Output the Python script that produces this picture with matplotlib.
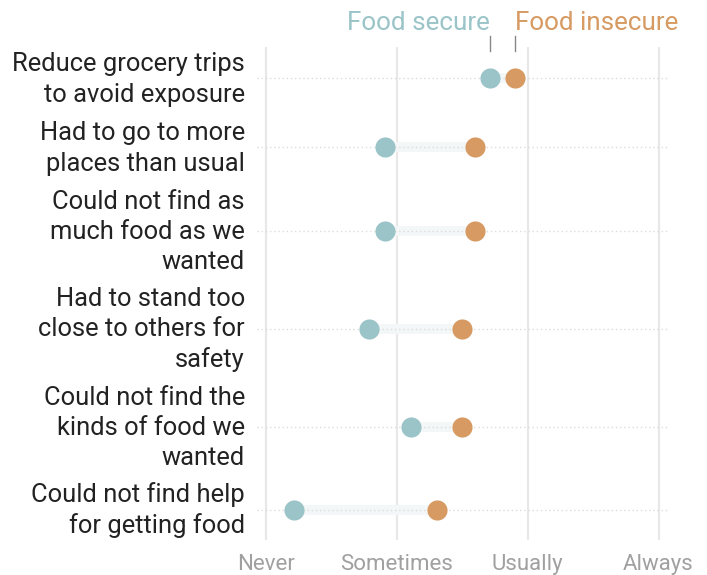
import numpy as np
from matplotlib import pyplot as plt
from matplotlib.transforms import blended_transform_factory

labels = [
    "Reduce grocery trips\nto avoid exposure",
    "Had to go to more\nplaces than usual",
    "Could not find as\nmuch food as we\nwanted",
    "Had to stand too\nclose to others for\nsafety",
    "Could not find the\nkinds of food we\nwanted",
    "Could not find help\nfor getting food",
]
food_secure = [2.71, 1.91, 1.91, 1.79, 2.11, 1.21]
food_insecure = [2.90, 2.60, 2.60, 2.50, 2.50, 2.31]
scale_values = [1, 2, 3, 4]
scale_labels = ["Never", "Sometimes", "Usually", "Always"]

SECURE = "#9ac4c8"
INSECURE = "#d69a62"

plt.rcParams["font.family"] = ["Roboto", "DejaVu Sans"]

fig = plt.figure(figsize=(7.07, 5.75), dpi=100)
W, H = 707, 575
PT = 72 / 100  # points per pixel
ax = fig.add_axes([257 / W, 1 - 540 / H, (669 - 257) / W, (540 - 47) / H])

# row heights depend on how many lines the label has
line_counts = np.array([lab.count("\n") + 1 for lab in labels])
heights = line_counts + 11 / 29
edges = np.concatenate([[0], np.cumsum(heights)])
centers = (edges[:-1] + edges[1:]) / 2

for y, s, i in zip(centers, food_secure, food_insecure):
    ax.plot([s, i], [y, y], color="#f4f7f7", lw=7.2, solid_capstyle="butt", zorder=1)
    ax.axhline(y, color="#dcdcdc", lw=1, ls=(0, (1, 2)), zorder=2)

ax.scatter(food_secure, centers, s=210, color=SECURE, zorder=4, linewidths=0)
ax.scatter(food_insecure, centers, s=210, color=INSECURE, zorder=4, linewidths=0)

for x in scale_values:
    ax.axvline(x, color="#e8e8e8", lw=1.6, zorder=0)

ax.set_xlim(0.93, 4.08)
ax.set_ylim(edges[-1] - 4.5 / 29, 3.5 / 29)
ax.set_xticks(scale_values)
ax.set_xticklabels(scale_labels, fontsize=16, color="#a0a0a0")
ax.set_yticks([])
ax.tick_params(axis="both", length=0)
ax.tick_params(axis="x", pad=10)
for spine in ax.spines.values():
    spine.set_visible(False)

# row labels: block of lines centred on the row (cap top to last baseline);
# va="baseline" anchors the last line's baseline
ytr = blended_transform_factory(ax.transAxes, ax.transData)
for lab, n, y in zip(labels, line_counts, centers):
    down_px = (n - 1) * 15 + 8.5
    ax.annotate(lab, xy=(0, y), xycoords=ytr, xytext=(-12 * PT, -down_px * PT),
                textcoords="offset points", ha="right", va="baseline",
                fontsize=18.4, color="#222222", linespacing=1.32)

# legend labels above the first row
tr = blended_transform_factory(ax.transData, fig.transFigure)
ax.text(food_secure[0], 1 - 23 / H, "Food secure", transform=tr, ha="right",
        va="center", fontsize=18.7, color=SECURE)
ax.text(food_insecure[0], 1 - 23 / H, "Food insecure", transform=tr, ha="left",
        va="center", fontsize=18.7, color=INSECURE)
for x in [food_secure[0], food_insecure[0]]:
    ax.plot([x, x], [1 - 36 / H, 1 - 51 / H], transform=tr, color="#888888",
            lw=1, clip_on=False)

plt.savefig("out.png", dpi=100)
